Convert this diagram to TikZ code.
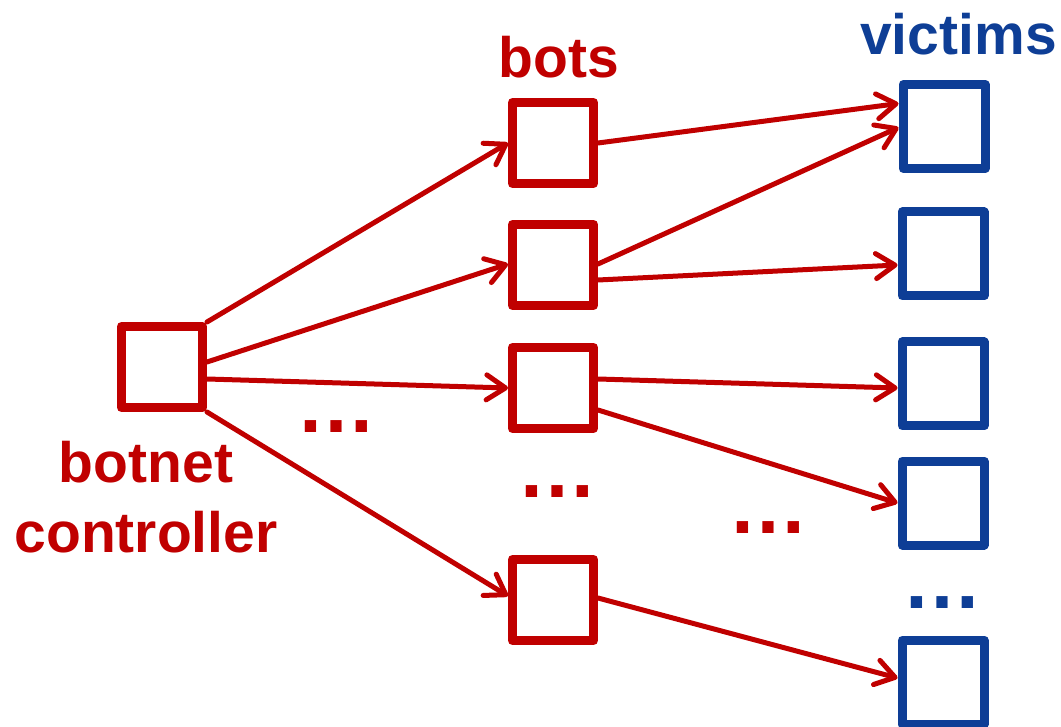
\documentclass[tikz,border=0pt]{standalone}
\usepackage{fontspec}
\setmainfont{Liberation Sans}
\usetikzlibrary{arrows.meta,calc}
\definecolor{bred}{RGB}{192,0,0}
\definecolor{vblue}{RGB}{14,62,150}
\begin{document}
\begin{tikzpicture}[x=1pt,y=-1pt,
  redbox/.style={draw=bred,line width=9pt,rectangle,minimum width=81pt,minimum height=81pt,inner sep=0pt,line join=round},
  bluebox/.style={draw=vblue,line width=9pt,rectangle,minimum width=82pt,minimum height=84pt,inner sep=0pt,line join=round},
  conn/.style={draw=bred,line width=5pt,line cap=round,-{Straight Barb[length=19pt,width=25pt,line cap=round,line join=round]}},
  lbl/.style={font=\bfseries\fontsize{57}{70}\selectfont,inner sep=0pt,anchor=base},
  ell/.style={font=\bfseries\fontsize{80}{80}\selectfont,inner sep=0pt,anchor=base}]
\useasboundingbox (0,0) rectangle (1061,727);
% boxes
\node[redbox] (c) at (162,367) {};
\node[redbox] (b1) at (553,143) {};
\node[redbox] (b2) at (553,265) {};
\node[redbox] (b3) at (553,388) {};
\node[redbox] (b4) at (553,600) {};
\node[bluebox] (v1) at (944,126.5) {};
\node[bluebox] (v2) at (943,254) {};
\node[bluebox] (v3) at (943,384) {};
\node[bluebox] (v4) at (943,503) {};
\node[bluebox] (v5) at (943,682) {};
% labels
\node[lbl,text=bred] (tbots) at (559,78) {bots};
\node[lbl,text=vblue] (tvict) at (958.5,55) {victims};
\node[lbl,text=bred,align=center] (tctrl) at (146,552) {botnet\\controller};
% ellipses
\node[ell,text=bred] (e1) at (336.5,432) {…};
\node[ell,text=bred] (e2) at (557,497) {…};
\node[ell,text=bred] (e3) at (768,533) {…};
\node[ell,text=vblue] (e4) at (942.5,608) {…};
% connectors
\draw[conn] (c.north east) -- (b1.west);
\draw[conn] ([yshift=5pt]c.east) -- ([yshift=1pt]b2.west);
\draw[conn] ([yshift=-12pt]c.east) -- (b3.west);
\draw[conn] (c.south east) -- ([yshift=4pt]b4.west);
\draw[conn] (b1.east) -- ([yshift=23pt]v1.west);
\draw[conn] ([yshift=1pt]b2.east) -- ([yshift=-1pt]v1.west);
\draw[conn] ([yshift=-15pt]b2.east) -- ([yshift=-11pt]v2.west);
\draw[conn] ([yshift=9pt]b3.east) -- ([yshift=-4pt]v3.west);
\draw[conn] ([yshift=-22pt]b3.east) -- (v4.west);
\draw[conn] ([yshift=2pt]b4.east) -- ([yshift=4pt]v5.west);
\end{tikzpicture}
\end{document}
